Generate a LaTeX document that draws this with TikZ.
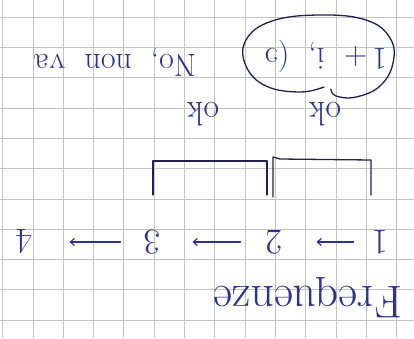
\documentclass[tikz,border=0pt]{standalone}
\usepackage{graphicx}
\usepackage{xcolor}
\usetikzlibrary{arrows.meta}
\definecolor{ink}{RGB}{46,50,140}
\definecolor{pencil}{RGB}{34,34,82}
\definecolor{gridgray}{RGB}{196,196,196}

\begin{document}
\begin{tikzpicture}[x=1pt,y=-1pt,
    hand/.style={text=ink, rotate=180, inner sep=0pt},
    stroke/.style={pencil, line width=1.3pt, line cap=round, line join=round},
    arrline/.style={ink, line width=1.2pt, line cap=round, -{Straight Barb[length=4pt,width=7pt]}}]

  \useasboundingbox[fill=white] (0,0) rectangle (414,338);

  \foreach \i in {0,...,13}{
    \draw[gridgray, line width=0.5pt] (2.5+30.3*\i,0) -- ++(0,338);
  }
  \foreach \j in {0,...,10}{
    \draw[gridgray, line width=0.5pt] (0,17+30.3*\j) -- ++(414,0);
  }

  \node[hand, font=\fontsize{46}{52}\selectfont] (title) at (308,298) {F\kern1pt requenze};

  \node[hand, font=\fontsize{36}{42}\selectfont] (n1) at (380,242) {1};
  \node[hand, font=\fontsize{36}{42}\selectfont] (n2) at (274,242) {2};
  \node[hand, font=\fontsize{36}{42}\selectfont] (n3) at (152,242) {3};
  \node[hand, font=\fontsize{36}{42}\selectfont] (n4) at (24,242) {4};
  \draw[arrline, shorten <=18pt, shorten >=34pt] (n1) -- (n2);
  \draw[arrline, shorten <=25pt, shorten >=32pt] (n2) -- (n3);
  \draw[arrline, shorten <=23pt, shorten >=37pt] (n3) -- (n4);

  \draw[stroke] (153,195) -- (153,161) -- (267,161) -- (267,195);
  \draw[stroke] (273,197) -- (273,157) -- (280,159) -- (371,160) -- (371,195);

  \node[hand, font=\fontsize{34}{40}\selectfont] (ok1) at (203,114) {ok};
  \node[hand, font=\fontsize{34}{40}\selectfont] (ok2) at (325,114) {ok};

  \draw[stroke] plot[smooth, tension=0.7] coordinates {(324,87) (300,92) (266,86) (246,66) (246,40)
    (272,21) (320,15) (366,20) (390,38) (393,63) (380,86) (356,97) (336,96) (331,89)};
  \node[hand, font=\fontsize{32}{38}\selectfont] (pair) at (326,56) {1\,+\ \ i,\ \ (\reflectbox{c}};

  \node[hand, font=\fontsize{32}{38}\selectfont] (nonva) at (115,62) {No,\ \ non\ \ v\kern1pt a};

\end{tikzpicture}
\end{document}
